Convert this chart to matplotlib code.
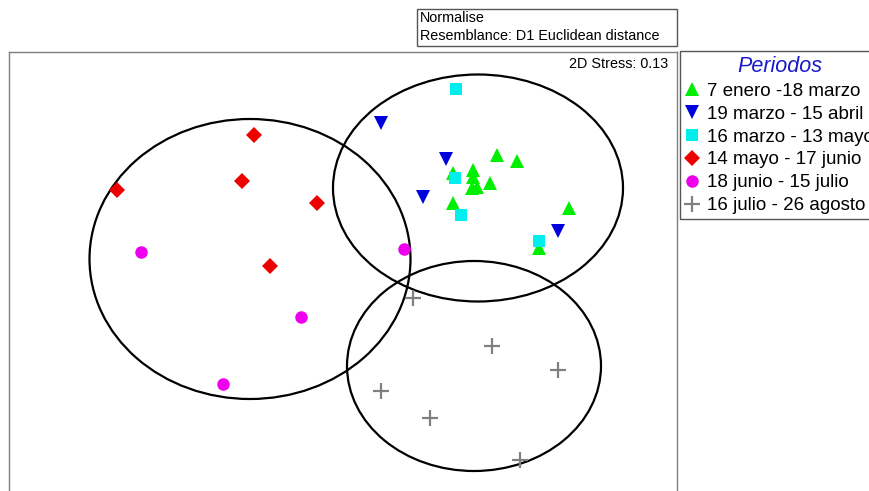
import matplotlib.pyplot as plt
from matplotlib.patches import Ellipse, Rectangle
from matplotlib.lines import Line2D

plt.rcParams['font.family'] = ['Liberation Sans', 'DejaVu Sans']

# nMDS ordination coordinates per sampling period
periods = ['7 enero -18 marzo', '19 marzo - 15 abril', '16 marzo - 13 mayo',
           '14 mayo - 17 junio', '18 junio - 15 julio', '16 julio - 26 agosto']

x_p1 = [497, 517, 453, 473, 473, 490, 472, 477, 453, 569, 539]
y_p1 = [155, 161, 173, 170, 177, 183, 188, 187, 203, 208, 248]
x_p2 = [381, 446, 423, 558]
y_p2 = [123, 159, 197, 231]
x_p3 = [456, 455, 461, 539]
y_p3 = [89, 178, 215, 241]
x_p4 = [254, 117, 242, 317, 270]
y_p4 = [135, 190, 181, 203, 266]
x_p5 = [141, 404, 301, 223]
y_p5 = [252, 249, 317, 384]
x_p6 = [413, 492, 558, 381, 430, 520]
y_p6 = [298, 346, 370, 391, 418, 460]

# cluster ellipses: centre x, centre y, width, height
ell_cx = [250, 478, 474]
ell_cy = [259, 188, 366]
ell_w = [321, 290, 254]
ell_h = [280, 227, 210]

stress = 0.13

W, H = 869, 491
fig = plt.figure(figsize=(W / 100, H / 100), dpi=100)

# plot frame runs off the bottom of the figure
left, top, right, bottom = 9, 52, 677, 530
ax = fig.add_axes([left / W, (H - bottom) / H, (right - left) / W, (bottom - top) / H])
ax.set_xlim(left, right)
ax.set_ylim(bottom, top)
ax.set_xticks([])
ax.set_yticks([])
for s in ax.spines.values():
    s.set_color('#7f7f7f')
    s.set_linewidth(1)

for cx, cy, w, h in zip(ell_cx, ell_cy, ell_w, ell_h):
    ax.add_patch(Ellipse((cx, cy), w, h, fill=False, ec='black', lw=1.6, zorder=3))

styles = [
    dict(marker='^', color='#00ee00', ms=10),
    dict(marker='v', color='#0000dd', ms=10),
    dict(marker='s', color='#00eeee', ms=9),
    dict(marker='D', color='#ee0000', ms=8),
    dict(marker='o', color='#ee00ee', ms=9),
    dict(marker='+', color='#808080', ms=12, mew=1.6),
]
series = [(x_p1, y_p1), (x_p2, y_p2), (x_p3, y_p3),
          (x_p4, y_p4), (x_p5, y_p5), (x_p6, y_p6)]

handles = []
for (xs, ys), st, lab in zip(series, styles, periods):
    ax.plot(xs, ys, ls='none', marker=st['marker'], color=st['color'],
            ms=st['ms'], mew=st.get('mew', 0), zorder=4)
    handles.append(Line2D([], [], ls='none', marker=st['marker'], color=st['color'],
                          ms=st['ms'], mew=st.get('mew', 0), label=lab))

ax.text(668, 64, f'2D Stress: {stress:.2f}', ha='right', va='center', fontsize=10.4)

# transform header box
fig.patches.append(Rectangle((417 / W, 1 - 46 / H), 260 / W, 37 / H,
                             transform=fig.transFigure, fill=False,
                             ec='#555555', lw=1))
fig.text(420 / W, 1 - 18 / H, 'Normalise', fontsize=10.4, va='center')
fig.text(420 / W, 1 - 36 / H, 'Resemblance: D1 Euclidean distance', fontsize=10.4, va='center')

leg = fig.legend(handles=handles, loc='upper left',
                 bbox_to_anchor=(680 / W, 1 - 51 / H), borderaxespad=0,
                 title='Periodos', fontsize=13.5, handlelength=0.8,
                 handletextpad=0.4, labelspacing=0.31, borderpad=0.25,
                 fancybox=False, edgecolor='#555555', framealpha=1)
leg.get_title().set_color('#1a1acc')
leg.get_title().set_fontstyle('italic')
leg.get_title().set_fontsize(15.5)
leg.get_frame().set_linewidth(1)

fig.savefig('out.png', dpi=100)
